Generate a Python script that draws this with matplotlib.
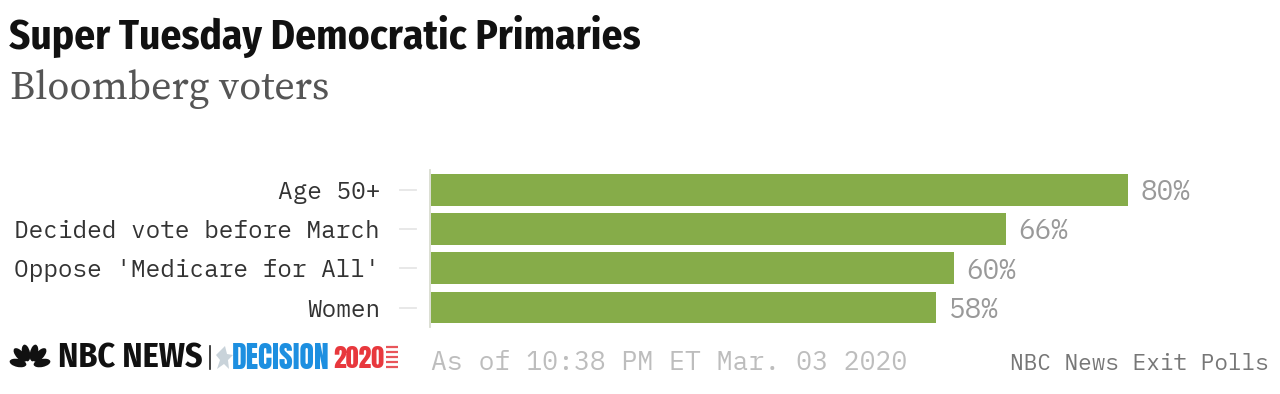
import matplotlib

matplotlib.use("Agg")
import matplotlib.pyplot as plt  # noqa: E402
from matplotlib.patches import Ellipse, Polygon  # noqa: E402

W, H = 1280, 394

categories = ["Age 50+", "Decided vote before March", "Oppose 'Medicare for All'", "Women"]
values = [80, 66, 60, 58]
value_labels = ["80%", "66%", "60%", "58%"]

GREEN = "#86ac49"
GREY = "#999999"
MONO = ["IBM Plex Mono", "Space Mono", "DejaVu Sans Mono"]
NARROW = ["Fira Sans Condensed", "Liberation Sans"]
HEAVY = ["Anton", "Liberation Sans"]
SERIF = ["Source Serif 4", "Liberation Serif"]

fig = plt.figure(figsize=(W / 100, H / 100), dpi=100, facecolor="white")

# bar panel: x=431px is 0%, 8.71px per point; each row is 39.4px
left, right, top, bottom = 431, 1220, 170, 327
ax = fig.add_axes([left / W, 1 - bottom / H, (right - left) / W, (bottom - top) / H])
ax.set_xlim(0, (right - left) / 8.71)
ax.set_ylim(3.5 - 0.005, -0.5 - 0.005)
# set_position resets the ticks, so it has to come before the labels
for s in ("top", "right", "bottom"):
    ax.spines[s].set_visible(False)
ax.spines["left"].set_color("#d9dcd0")
ax.spines["left"].set_linewidth(1.3)
ax.spines["left"].set_position(("outward", 0.7))
ax.barh(range(len(values)), values, height=0.81, color=GREEN)
ax.set_yticks(range(len(values)))
ax.set_yticklabels(categories, family=MONO, fontsize=17.6, color="#333333")
ax.set_xticks([])
ax.tick_params(axis="y", length=0, pad=36)
ax.patch.set_alpha(0)
for i, (v, lab) in enumerate(zip(values, value_labels)):
    # detached tick dash, it stops short of the axis
    ax.plot([-31 / (right - left), -15 / (right - left)], [i, i], color="#e6e6e6", lw=1.3,
            transform=ax.get_yaxis_transform(), clip_on=False)
    ax.annotate(lab, (v, i), xytext=(9, -2), textcoords="offset points", va="center",
                family=MONO, fontsize=20, color=GREY)

# page level overlay in pixel coords for header and footer
pg = fig.add_axes([0, 0, 1, 1])
pg.set_xlim(0, W)
pg.set_ylim(H, 0)
pg.axis("off")
pg.patch.set_alpha(0)

pg.text(9, 36, "Super Tuesday Democratic Primaries", family=NARROW, weight="bold",
        fontsize=29.7, color="#111111", va="center")
pg.text(10, 89, "Bloomberg voters", family=SERIF, fontsize=29, color="#555555", va="center")

# peacock logo
for x, y, ang in [(18, 363, 12), (20, 355, 48), (26, 353, 78), (34, 353, 102), (40, 355, 132),
                  (42, 363, 168)]:
    pg.add_patch(Ellipse((x, y), 17, 8, angle=ang, color="#111111", lw=0))
pg.text(58, 358, "NBC NEWS", family=NARROW, weight="bold", fontsize=24.5,
        color="#111111", va="center")
pg.plot([210, 210], [346, 369], color="#222222", lw=1.2)

# decision 2020 mark
pg.add_patch(Polygon([(225, 346), (227, 354), (233, 355), (228, 360), (229, 369), (224, 364),
                      (217, 369), (220, 360), (216, 355)], color="#c9d3da", lw=0))
pg.text(232, 358, "DECISION", family=HEAVY, fontsize=21.5,
        color="#1d8fe0", va="center")
pg.text(333, 358, "2020", family=HEAVY, fontsize=18.5,
        color="#e8383d", va="center")
for y in (347, 352, 357, 362, 367):
    pg.plot([386, 398], [y, y], color="#e8555a", lw=1.6, solid_capstyle="butt")

pg.text(431, 363, "As of 10:38 PM ET Mar. 03 2020", family=MONO, fontsize=19,
        color="#bdbdbd", va="center")
pg.text(1269, 364, "NBC News Exit Polls", family=MONO, fontsize=16.4, color="#777777",
        va="center", ha="right")

fig.savefig("out.png", dpi=100)
